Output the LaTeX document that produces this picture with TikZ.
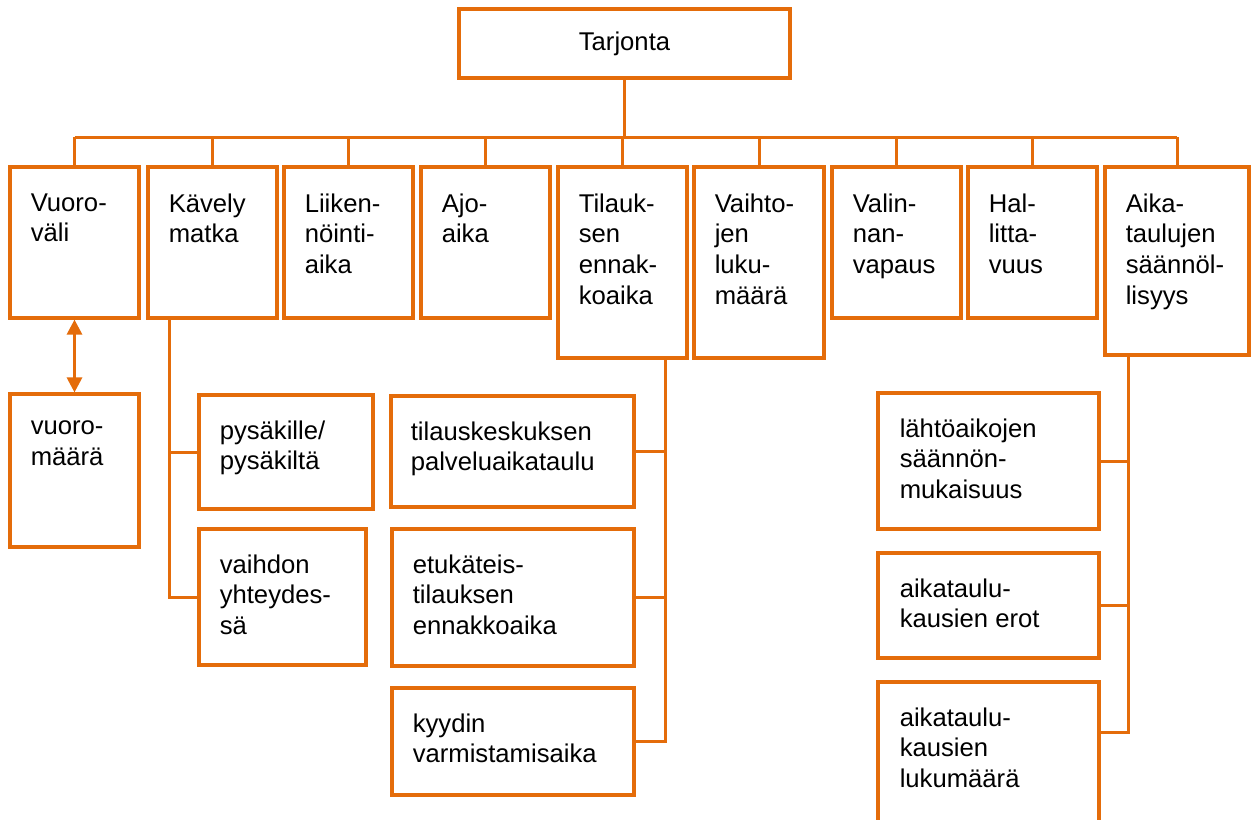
\documentclass[tikz,border=0pt]{standalone}
\usepackage{fontspec}
\setmainfont{Liberation Sans}
\usetikzlibrary{fit,arrows.meta}
\definecolor{orng}{HTML}{E46C0A}
\tikzset{
  box/.style={draw=orng, line width=1.8pt, inner sep=0pt},
  txt/.style={anchor=north west, align=left, inner sep=0pt, execute at begin node=\strut},
  conn/.style={draw=orng, line width=1.7pt},
}

\begin{document}
\begin{tikzpicture}[x=0.02cm, y=-0.02cm, font=\fontsize{14.6}{17.4}\selectfont]
  \useasboundingbox (0,0) rectangle (1256,819);
  % root
  \node[box, fit={(459,9) (790,78)}] (tar) {};
  \node (tar-t) at (tar.center) {Tarjonta};
  % first level
  \node[box, fit={(10,167) (139,318)}] (vv) {};
  \node[box, fit={(148,167) (277,318)}] (kav) {};
  \node[box, fit={(284,167) (413,318)}] (lii) {};
  \node[box, fit={(421,167) (550,318)}] (ajo) {};
  \node[box, fit={(558,167) (687,358)}] (til) {};
  \node[box, fit={(694,167) (824,358)}] (vai) {};
  \node[box, fit={(832,167) (961,318)}] (val) {};
  \node[box, fit={(968,167) (1097,318)}] (hal) {};
  \node[box, fit={(1105,167) (1249,355)}] (ait) {};
  % second level
  \node[box, fit={(10,394) (139,547)}] (vm) {};
  \node[box, fit={(199,395) (373,509)}] (pys) {};
  \node[box, fit={(199,529) (366,665)}] (vah) {};
  \node[box, fit={(391,396) (634,507)}] (tks) {};
  \node[box, fit={(392,529) (634,666)}] (etu) {};
  \node[box, fit={(392,688) (634,795)}] (kyy) {};
  \node[box, fit={(878,393) (1099,529)}] (lah) {};
  \node[box, fit={(878,553) (1099,658)}] (aer) {};
  \begin{scope}
    \clip (0,0) rectangle (1256,819);
    \node[box, fit={(878,682) (1099,840)}] (alk) {};
  \end{scope}
  % texts
  \node[txt] (vv-t) at ([shift={(22,28)}]vv.north west) {Vuoro-\\väli};
  \node[txt] (kav-t) at ([shift={(22,28)}]kav.north west) {Kävely\\matka};
  \node[txt] (lii-t) at ([shift={(22,28)}]lii.north west) {Liiken-\\nöinti-\\aika};
  \node[txt] (ajo-t) at ([shift={(22,28)}]ajo.north west) {Ajo-\\aika};
  \node[txt] (til-t) at ([shift={(22,28)}]til.north west) {Tilauk-\\sen\\ennak-\\koaika};
  \node[txt] (vai-t) at ([shift={(22,28)}]vai.north west) {Vaihto-\\jen\\luku-\\määrä};
  \node[txt] (val-t) at ([shift={(22,28)}]val.north west) {Valin-\\nan-\\vapaus};
  \node[txt] (hal-t) at ([shift={(22,28)}]hal.north west) {Hal-\\litta-\\vuus};
  \node[txt] (ait-t) at ([shift={(22,28)}]ait.north west) {Aika-\\taulujen\\säännöl-\\lisyys};
  \node[txt] (vm-t) at ([shift={(22,28)}]vm.north west) {vuoro-\\määrä};
  \node[txt] (pys-t) at ([shift={(22,27)}]pys.north west) {pysäkille/\\pysäkiltä};
  \node[txt] (vah-t) at ([shift={(22,27)}]vah.north west) {vaihdon\\yhteydes-\\sä};
  \node[txt] (tks-t) at ([shift={(21,27)}]tks.north west) {tilauskeskuksen\\palveluaikataulu};
  \node[txt] (etu-t) at ([shift={(22,27)}]etu.north west) {etukäteis-\\tilauksen\\ennakkoaika};
  \node[txt] (kyy-t) at ([shift={(22,27)}]kyy.north west) {kyydin\\varmistamisaika};
  \node[txt] (lah-t) at ([shift={(23,27)}]lah.north west) {lähtöaikojen\\säännön-\\mukaisuus};
  \node[txt] (aer-t) at ([shift={(23,27)}]aer.north west) {aikataulu-\\kausien erot};
  \node[txt] (alk-t) at ([shift={(23,27)}]alk.north west) {aikataulu-\\kausien\\lukumäärä};
  % tree lines
  \coordinate (bus) at (0,137);
  \draw[conn] (tar.south) -- (tar.south |- bus);
  \draw[conn] (vv.north |- bus) -- (ait.north |- bus);
  \foreach \n in {vv,kav,lii,ajo,til,vai,val,hal,ait}
    \draw[conn] (\n.north) -- (\n.north |- bus);
  \draw[conn, {Triangle[width=0.3cm,length=0.3cm]}-{Triangle[width=0.3cm,length=0.3cm]}] (vv.south) -- (vm.north);
  % walking
  \coordinate (kv) at ([xshift=0.46cm]kav.south west);
  \draw[conn] (kv) |- (vah.west);
  \draw[conn] (kv |- pys.west) -- (pys.west);
  % ordering
  \coordinate (tv) at ([xshift=-0.46cm]til.south east);
  \draw[conn] (tv) |- (kyy.east);
  \draw[conn] (tv |- tks.east) -- (tks.east);
  \draw[conn] (tv |- etu.east) -- (etu.east);
  % timetables
  \coordinate (av) at ([xshift=0.5cm]ait.south west);
  \draw[conn] (av) |- ([yshift=-1.04cm]alk.north east);
  \draw[conn] (av |- lah.east) -- (lah.east);
  \draw[conn] (av |- aer.east) -- (aer.east);
\end{tikzpicture}
\end{document}
